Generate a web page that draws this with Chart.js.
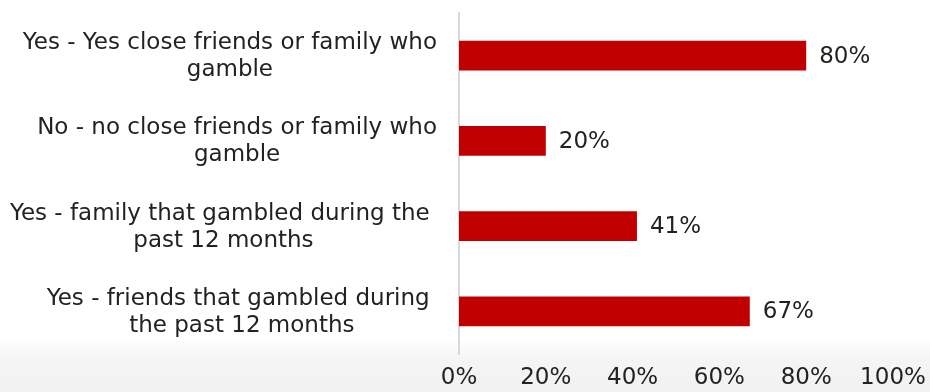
<!DOCTYPE html>
<html>
<head>
<meta charset="utf-8">
<script src="https://cdn.jsdelivr.net/npm/chart.js@4.4.1/dist/chart.umd.min.js"></script>
<style>
  html, body { margin: 0; padding: 0; background: #fff; }
  #wrap {
    width: 930px; height: 392px; position: relative;
    background: linear-gradient(to bottom, #ffffff 0px, #ffffff 338px, #f5f5f5 358px, #f1f1f1 392px);
  }
</style>
</head>
<body>
<div id="wrap"><canvas id="chart"></canvas></div>
<script>
// categories, one array of lines per bar (wrapped like the original labels)
var categories = [
  ['Yes - Yes close friends or family who', 'gamble'],
  ['No - no close friends or family who', 'gamble'],
  ['Yes - family that gambled during the ', 'past 12 months'],
  ['Yes - friends that gambled during ', 'the past 12 months']
];
var values = [80, 20, 41, 67];
var tickValues = [0, 20, 40, 60, 80, 100];

var FONT = '"DejaVu Sans", Verdana, sans-serif';
var TEXT = '#222222';

// wrapped category labels: block right-aligned, lines centred inside the block
var categoryLabels = {
  id: 'categoryLabels',
  afterDraw: function(chart) {
    var ctx = chart.ctx;
    var y = chart.scales.y;
    var right = chart.chartArea.left - 22;
    ctx.save();
    ctx.font = '23px ' + FONT;
    ctx.fillStyle = TEXT;
    ctx.textAlign = 'center';
    ctx.textBaseline = 'alphabetic';
    categories.forEach(function(lines, i) {
      var w = 0;
      lines.forEach(function(l) { w = Math.max(w, ctx.measureText(l).width); });
      var cx = right - w / 2;
      var cy = y.getPixelForTick(i);
      lines.forEach(function(l, j) {
        ctx.fillText(l, cx, cy - 6.5 + j * 27);
      });
    });
    ctx.restore();
  }
};

// value labels just past the end of each bar
var valueLabels = {
  id: 'valueLabels',
  afterDatasetsDraw: function(chart) {
    var ctx = chart.ctx;
    var meta = chart.getDatasetMeta(0);
    ctx.save();
    ctx.font = '23px ' + FONT;
    ctx.fillStyle = TEXT;
    ctx.textAlign = 'left';
    ctx.textBaseline = 'middle';
    meta.data.forEach(function(bar, i) {
      ctx.fillText(values[i] + '%', bar.x + 13, bar.y + 1);
    });
    ctx.restore();
  }
};

new Chart(document.getElementById('chart'), {
  type: 'bar',
  data: {
    labels: categories.map(function(c) { return c.join(' '); }),
    datasets: [{
      data: values,
      backgroundColor: '#c00000',
      borderWidth: 0,
      categoryPercentage: 0.7,
      barPercentage: 0.5
    }]
  },
  options: {
    indexAxis: 'y',
    responsive: true,
    maintainAspectRatio: false,
    animation: false,
    layout: { padding: { top: 13, right: 37, left: 0, bottom: 0 } },
    plugins: { legend: { display: false }, tooltip: { enabled: false } },
    scales: {
      x: {
        min: 0,
        max: 100,
        afterBuildTicks: function(scale) {
          scale.ticks = tickValues.map(function(v) { return { value: v }; });
        },
        afterFit: function(scale) {
          scale.height = 38;
          scale.paddingLeft = 0;
          scale.paddingRight = 0;
        },
        grid: { display: false, drawTicks: false },
        border: { display: false },
        ticks: {
          padding: 10,
          color: TEXT,
          font: { family: FONT, size: 23 },
          callback: function(v) { return v + '%'; }
        }
      },
      y: {
        afterFit: function(scale) { scale.width = 459; },
        grid: { display: false, drawTicks: false },
        border: { display: true, color: '#d9d9d9', width: 2 },
        ticks: { display: false }
      }
    }
  },
  plugins: [categoryLabels, valueLabels]
});
</script>
</body>
</html>
